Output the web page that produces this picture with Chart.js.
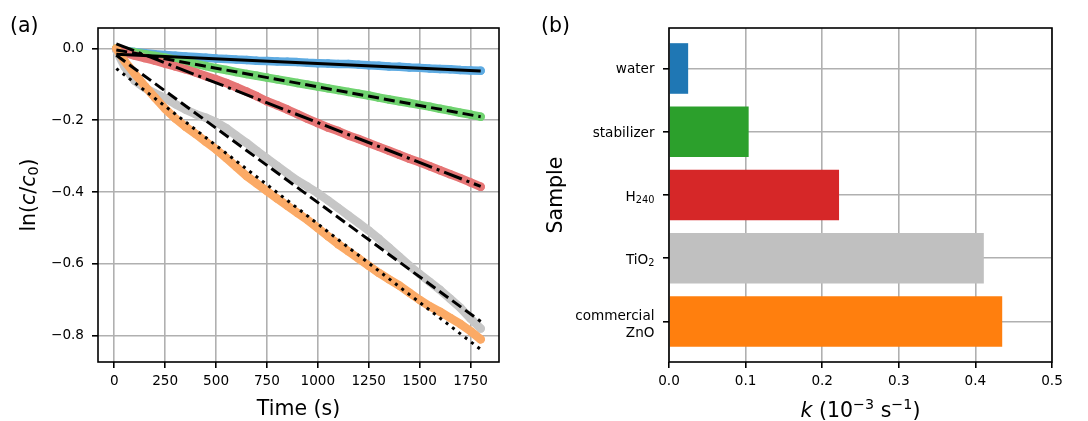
<!DOCTYPE html>
<html>
<head>
<meta charset="utf-8">
<script src="https://cdn.jsdelivr.net/npm/chart.js@4.4.1/dist/chart.umd.min.js"></script>
<style>
  body { margin: 0; background: #fff; width: 1088px; height: 421px; overflow: hidden; position: relative; }
  canvas { position: absolute; top: 0; }
  #left { left: 0; }
  #right { left: 540px; }
</style>
</head>
<body>
<canvas id="left" width="540" height="421"></canvas>
<canvas id="right" width="548" height="421"></canvas>
<script>
// (a) ln(c/c0) against time
const times = [10, 50, 100, 150, 200, 250, 300, 350, 400, 450, 500, 550, 600, 650, 700, 750, 800, 850, 900, 950,
  1000, 1050, 1100, 1150, 1200, 1250, 1300, 1350, 1400, 1450, 1500, 1550, 1600, 1650, 1700, 1750, 1800];
const lnWater = [-0.002, -0.006, -0.010, -0.013, -0.016, -0.018, -0.020, -0.022, -0.024, -0.026, -0.028, -0.029, -0.031,
  -0.032, -0.034, -0.035, -0.036, -0.037, -0.038, -0.040, -0.041, -0.042, -0.043, -0.043, -0.045, -0.047, -0.048,
  -0.050, -0.051, -0.053, -0.054, -0.056, -0.057, -0.058, -0.060, -0.061, -0.062];
const lnStabilizer = [0.000, -0.006, -0.011, -0.016, -0.021, -0.026, -0.031, -0.037, -0.043, -0.049, -0.055, -0.060,
  -0.066, -0.071, -0.076, -0.081, -0.086, -0.091, -0.096, -0.101, -0.106, -0.111, -0.116, -0.121, -0.126, -0.131,
  -0.137, -0.142, -0.147, -0.152, -0.157, -0.162, -0.168, -0.173, -0.179, -0.184, -0.190];
const lnH240 = [-0.003, -0.012, -0.020, -0.027, -0.034, -0.042, -0.050, -0.058, -0.067, -0.077, -0.086, -0.096, -0.108,
  -0.120, -0.133, -0.147, -0.158, -0.170, -0.183, -0.196, -0.208, -0.220, -0.230, -0.242, -0.252, -0.263, -0.274,
  -0.285, -0.296, -0.307, -0.317, -0.328, -0.339, -0.350, -0.361, -0.373, -0.385];
const lnTiO2 = [-0.005, -0.050, -0.090, -0.110, -0.125, -0.138, -0.155, -0.170, -0.183, -0.193, -0.205, -0.222, -0.243,
  -0.263, -0.285, -0.306, -0.327, -0.348, -0.368, -0.385, -0.403, -0.423, -0.444, -0.465, -0.486, -0.507, -0.530,
  -0.555, -0.580, -0.605, -0.628, -0.650, -0.672, -0.697, -0.722, -0.752, -0.780];
const lnZnO = [0.000, -0.035, -0.070, -0.105, -0.137, -0.168, -0.195, -0.218, -0.238, -0.260, -0.281, -0.305, -0.330,
  -0.355, -0.376, -0.397, -0.418, -0.438, -0.458, -0.478, -0.500, -0.523, -0.545, -0.565, -0.585, -0.605, -0.625,
  -0.643, -0.660, -0.680, -0.700, -0.718, -0.733, -0.750, -0.767, -0.787, -0.810];

// linear fits: start and end of each line
const fitTimes = [10, 1800];
const fitWater = [-0.016, -0.063];
const fitStabilizer = [-0.004, -0.190];
const fitH240 = [0.013, -0.384];
const fitTiO2 = [-0.019, -0.760];
const fitZnO = [-0.056, -0.838];

const timeTicks = [0, 250, 500, 750, 1000, 1250, 1500, 1750];
const lnTicks = [0, -0.2, -0.4, -0.6, -0.8];

// (b) rate constants
const samples = ['water', 'stabilizer', 'H240', 'TiO2', 'commercial ZnO'];
const kValues = [0.025, 0.104, 0.222, 0.411, 0.435];
const kTicks = [0, 0.1, 0.2, 0.3, 0.4, 0.5];

const FONT = 'DejaVu Sans';
const GRID = '#b0b0b0';

Chart.defaults.font.family = FONT;
Chart.defaults.font.size = 13.6;
Chart.defaults.color = '#000';

function partFont(p, size) {
  return (p.it ? 'italic ' : '') + (size * (p.s || 1)).toFixed(1) + 'px "' + FONT + '", sans-serif';
}

// text with italic / sub / superscript pieces, centred on (x, y)
function drawRich(ctx, parts, x, y, size, align, angle) {
  ctx.save();
  ctx.translate(x, y);
  if (angle) ctx.rotate(angle);
  const widths = parts.map(p => { ctx.font = partFont(p, size); return ctx.measureText(p.t).width; });
  const total = widths.reduce((a, b) => a + b, 0);
  let cx = align === 'center' ? -total / 2 : (align === 'right' ? -total : 0);
  ctx.fillStyle = '#000';
  ctx.textAlign = 'left';
  ctx.textBaseline = 'alphabetic';
  parts.forEach((p, i) => {
    ctx.font = partFont(p, size);
    ctx.fillText(p.t, cx, 0.35 * size + (p.dy || 0) * size);
    cx += widths[i];
  });
  ctx.restore();
}

function boxPlugin(draw) {
  return {
    id: 'frame',
    afterDraw(chart) {
      const ctx = chart.ctx, a = chart.chartArea;
      ctx.save();
      ctx.strokeStyle = '#000';
      ctx.lineWidth = 1.6;
      ctx.strokeRect(a.left, a.top, a.right - a.left, a.bottom - a.top);
      ctx.restore();
      draw(chart);
    }
  };
}

function pts(xs, ys) { return xs.map((x, i) => ({ x: x, y: ys[i] })); }

function band(label, ys, color) {
  return {
    label: label, data: pts(times, ys), showLine: true,
    borderColor: color, backgroundColor: color, borderWidth: 8.5,
    borderCapStyle: 'round', borderJoinStyle: 'round',
    pointRadius: 4.2, pointBorderWidth: 0, pointBackgroundColor: color
  };
}

function fit(label, ys, dash) {
  return {
    label: label, data: pts(fitTimes, ys), showLine: true,
    borderColor: '#000', borderWidth: 3, borderDash: dash, borderCapStyle: 'butt',
    pointRadius: 0
  };
}

const gridOpts = { color: GRID, lineWidth: 1.6, tickColor: '#000', tickWidth: 1.6, tickLength: 6 };

new Chart(document.getElementById('left').getContext('2d'), {
  type: 'scatter',
  data: {
    datasets: [
      fit('fit water', fitWater, []),
      fit('fit stabilizer', fitStabilizer, [11, 5]),
      fit('fit H240', fitH240, [19, 5, 3, 5]),
      fit('fit TiO2', fitTiO2, [11, 5]),
      fit('fit ZnO', fitZnO, [3, 5]),
      band('commercial ZnO', lnZnO, '#fbaa66'),
      band('TiO2', lnTiO2, '#c6c6c6'),
      band('H240', lnH240, '#e67575'),
      band('stabilizer', lnStabilizer, '#70d370'),
      band('water', lnWater, '#5eabe2')
    ]
  },
  options: {
    responsive: false,
    animation: false,
    layout: { padding: { top: 28, right: 41, left: 0, bottom: 0 } },
    plugins: { legend: { display: false }, tooltip: { enabled: false } },
    scales: {
      x: {
        type: 'linear', min: -80, max: 1890,
        afterBuildTicks: s => { s.ticks = timeTicks.map(v => ({ value: v })); },
        afterFit: s => { s.height = 59; },
        grid: gridOpts, border: { display: false },
        ticks: { color: '#000', font: { family: FONT, size: 13.6 }, padding: 5, maxRotation: 0,
          callback: v => String(v) }
      },
      y: {
        type: 'linear', min: -0.873, max: 0.057,
        afterBuildTicks: s => { s.ticks = lnTicks.map(v => ({ value: v })); },
        afterFit: s => { s.width = 98; },
        grid: gridOpts, border: { display: false },
        ticks: { color: '#000', font: { family: FONT, size: 13.6 }, padding: 8,
          callback: v => (v < 0 ? '\u2212' : '') + Math.abs(v).toFixed(1) }
      }
    }
  },
  plugins: [boxPlugin(chart => {
    const ctx = chart.ctx, a = chart.chartArea;
    drawRich(ctx, [{ t: '(a)' }], 10, 25, 20.5, 'left', 0);
    drawRich(ctx, [{ t: 'Time (s)' }], (a.left + a.right) / 2, 408, 20.5, 'center', 0);
    drawRich(ctx, [{ t: 'ln(' }, { t: 'c', it: 1 }, { t: '/' }, { t: 'c', it: 1 },
      { t: '0', s: 0.7, dy: 0.15 }, { t: ')' }], 28, (a.top + a.bottom) / 2, 20.5, 'center', -Math.PI / 2);
  })]
});

const barColors = ['#1f77b4', '#2ca02c', '#d62728', '#c0c0c0', '#ff7f0e'];

new Chart(document.getElementById('right').getContext('2d'), {
  type: 'bar',
  data: {
    datasets: [{
      label: 'k',
      data: kValues.map((v, i) => ({ x: v, y: i })),
      backgroundColor: barColors,
      borderWidth: 0,
      barPercentage: 0.8,
      categoryPercentage: 1.0
    }]
  },
  options: {
    indexAxis: 'y',
    responsive: false,
    animation: false,
    layout: { padding: { top: 28, right: 36, left: 0, bottom: 0 } },
    plugins: { legend: { display: false }, tooltip: { enabled: false } },
    scales: {
      x: {
        type: 'linear', min: 0, max: 0.5, z: 1,
        afterBuildTicks: s => { s.ticks = kTicks.map(v => ({ value: v })); },
        afterFit: s => { s.height = 59; },
        grid: gridOpts, border: { display: false },
        ticks: { color: '#000', font: { family: FONT, size: 13.6 }, padding: 5, maxRotation: 0,
          callback: v => v.toFixed(1) }
      },
      y: {
        type: 'linear', min: -0.64, max: 4.64, reverse: true, z: 1, offset: false,
        afterBuildTicks: s => { s.ticks = samples.map((n, i) => ({ value: i })); },
        afterFit: s => { s.width = 129; },
        grid: Object.assign({ offset: false }, gridOpts), border: { display: false },
        ticks: { callback: () => '' }
      }
    }
  },
  plugins: [boxPlugin(chart => {
    const ctx = chart.ctx, a = chart.chartArea, ys = chart.scales.y;
    const lx = a.left - 14.5;
    samples.forEach((name, i) => {
      const y = ys.getPixelForValue(i);
      const m = name.match(/^([A-Za-z]+?)(\d+)$/);
      if (name.indexOf(' ') > 0) {
        const lines = name.split(' ');
        drawRich(ctx, [{ t: lines[0] }], lx, y - 6.4, 13.6, 'right', 0);
        drawRich(ctx, [{ t: lines[1] }], lx, y + 10.6, 13.6, 'right', 0);
      } else if (m) {
        drawRich(ctx, [{ t: m[1] }, { t: m[2], s: 0.72, dy: 0.17 }], lx, y + 1, 13.6, 'right', 0);
      } else {
        drawRich(ctx, [{ t: name }], lx, y, 13.6, 'right', 0);
      }
    });
    drawRich(ctx, [{ t: '(b)' }], 1, 25, 20.5, 'left', 0);
    drawRich(ctx, [{ t: 'Sample' }], 15, (a.top + a.bottom) / 2, 20.5, 'center', -Math.PI / 2);
    drawRich(ctx, [{ t: 'k', it: 1 }, { t: ' (10' }, { t: '\u22123', s: 0.7, dy: -0.38 }, { t: ' s' },
      { t: '\u22121', s: 0.7, dy: -0.38 }, { t: ')' }], (a.left + a.right) / 2, 410, 20.5, 'center', 0);
  })]
});
</script>
</body>
</html>
